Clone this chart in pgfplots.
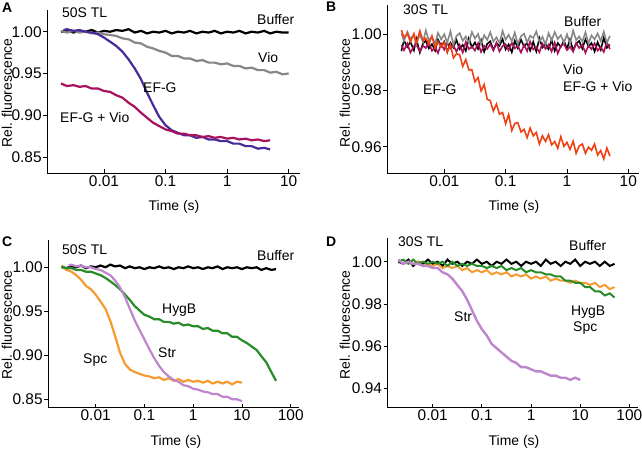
\documentclass[border=0pt]{standalone}
\usepackage{pgfplots}
\usepackage{pgfplotstable}
\pgfplotsset{compat=1.18}
\usepackage{fontspec}
\setmainfont{Liberation Sans}
\newcommand{\fs}{\fontsize{14}{16}\selectfont}
\newcommand{\ts}{\fontsize{15.5}{18}\selectfont}
\definecolor{efg}{RGB}{72,42,152}
\definecolor{crim}{RGB}{168,18,92}
\definecolor{vgray}{RGB}{135,135,135}
\definecolor{ored}{RGB}{240,65,20}
\definecolor{hyg}{RGB}{40,140,40}
\definecolor{spc}{RGB}{245,155,50}
\definecolor{str}{RGB}{190,135,205}
\pgfplotstableread{
t gray black crim ored
0.0020 1.0003 0.9940 0.9961 1.0015
0.0022 0.9976 0.9978 0.9943 0.9989
0.0025 1.0009 0.9955 0.9967 1.0002
0.0028 0.9984 0.9973 0.9935 0.9973
0.0032 0.9996 0.9943 0.9957 1.0002
0.0035 0.9966 0.9984 0.9964 0.9967
0.0040 0.9999 0.9935 0.9939 1.0012
0.0045 0.9972 0.9967 0.9959 0.9977
0.0050 1.0014 0.9977 0.9951 0.9986
0.0056 0.9979 0.9950 0.9971 0.9965
0.0063 0.9990 0.9965 0.9941 0.9994
0.0071 0.9967 0.9942 0.9955 0.9951
0.0079 1.0005 0.9981 0.9933 0.9974
0.0089 0.9982 0.9958 0.9966 0.9955
0.0100 1.0000 0.9974 0.9945 0.9971
0.0112 0.9970 0.9937 0.9969 0.9937
0.0126 1.0011 0.9970 0.9949 0.9963
0.0141 0.9962 0.9953 0.9960 0.9916
0.0158 0.9994 0.9980 0.9938 0.9931
0.0178 1.0004 0.9947 0.9963 0.9927
0.0200 0.9977 0.9962 0.9935 0.9886
0.0224 0.9992 0.9941 0.9973 0.9910
0.0251 0.9969 0.9985 0.9947 0.9874
0.0282 1.0008 0.9954 0.9956 0.9874
0.0316 0.9985 0.9971 0.9942 0.9831
0.0355 1.0001 0.9948 0.9968 0.9846
0.0398 0.9964 0.9979 0.9937 0.9799
0.0447 0.9997 0.9938 0.9959 0.9821
0.0501 0.9980 0.9966 0.9948 0.9769
0.0562 1.0007 0.9975 0.9965 0.9764
0.0631 0.9974 0.9944 0.9943 0.9727
0.0708 0.9989 0.9968 0.9970 0.9752
0.0794 0.9968 0.9959 0.9939 0.9716
0.0891 1.0012 0.9983 0.9958 0.9722
0.100 0.9981 0.9946 0.9965 0.9682
0.112 0.9998 0.9964 0.9943 0.9715
0.126 0.9975 0.9936 0.9970 0.9658
0.141 1.0006 0.9977 0.9950 0.9683
0.158 0.9965 0.9951 0.9959 0.9686
0.178 0.9993 0.9981 0.9935 0.9653
0.200 1.0002 0.9956 0.9962 0.9662
0.224 0.9971 0.9970 0.9940 0.9633
0.251 0.9995 0.9942 0.9974 0.9667
0.282 0.9986 0.9973 0.9946 0.9639
0.316 1.0010 0.9939 0.9955 0.9651
0.355 0.9973 0.9986 0.9936 0.9610
0.398 0.9991 0.9953 0.9967 0.9639
0.447 0.9963 0.9965 0.9948 0.9619
0.501 1.0004 0.9947 0.9963 0.9643
0.562 0.9978 0.9980 0.9939 0.9607
0.631 1.0008 0.9941 0.9971 0.9619
0.708 0.9983 0.9969 0.9932 0.9595
0.794 0.9997 0.9955 0.9958 0.9636
0.891 0.9969 0.9976 0.9966 0.9602
1.00 1.0000 0.9949 0.9944 0.9616
1.12 0.9966 0.9982 0.9956 0.9591
1.26 1.0013 0.9943 0.9938 0.9620
1.41 0.9980 0.9967 0.9969 0.9577
1.58 0.9992 0.9976 0.9951 0.9603
1.78 0.9974 0.9949 0.9963 0.9610
2.00 1.0007 0.9982 0.9934 0.9577
2.24 0.9968 0.9957 0.9960 0.9599
2.51 0.9996 0.9969 0.9947 0.9588
2.82 0.9982 0.9939 0.9968 0.9610
3.16 1.0003 0.9972 0.9942 0.9571
3.55 0.9976 0.9945 0.9954 0.9587
3.98 1.0009 0.9987 0.9937 0.9557
4.47 0.9970 0.9952 0.9972 0.9596
5.01 0.9994 0.9963 0.9947 0.9567
}\tabB
\begin{document}
\begin{tikzpicture}
\useasboundingbox (0bp,0bp) rectangle (642bp,450bp);
% ---------------- Panel A
\begin{axis}[scale only axis, xmode=log, anchor=south west,
  axis x line*=bottom, axis y line*=left, axis line style={-, line width=0.8bp},
  xtick align=inside, ytick align=outside, major tick length=4bp,
  xminorticks=false, yminorticks=false,
  tick style={line width=0.8bp, black}, tick label style={font=\ts},
  yticklabel style={inner sep=1.5pt}, xticklabel style={inner sep=2pt},
  at={(47.3bp,276.7bp)}, width=252.7bp, height=163.3bp,
  xmin=0.0012, xmax=15.26, ymin=0.8305, ymax=1.026,
  xtick={0.01,0.1,1,10}, xticklabels={\mbox{0.01},\mbox{0.1},\mbox{1},\mbox{10}},
  ytick={0.85,0.9,0.95,1}, yticklabels={\mbox{0.85},\mbox{0.90},\mbox{0.95},\mbox{1.00}}]
\addplot[black, line width=2.2bp, no markers] coordinates {(0.002,1.000)(0.0025,1.001)(0.0032,0.999)(0.004,1.001)(0.005,1.000)(0.0063,1.002)(0.008,0.999)(0.01,1.001)(0.0126,1.000)(0.0158,1.002)(0.02,1.001)(0.025,1.003)(0.0316,0.999)(0.04,1.001)(0.05,0.998)(0.063,1.000)(0.079,0.999)(0.1,1.001)(0.126,0.998)(0.158,1.000)(0.2,0.999)(0.25,1.001)(0.316,0.998)(0.4,1.000)(0.5,0.999)(0.63,1.001)(0.79,0.998)(1,1.000)(1.26,0.999)(1.58,1.001)(2,0.998)(2.5,1.000)(3.16,0.999)(4,1.001)(5,0.998)(6.3,1.000)(7.9,0.999)(10,0.999)};
\addplot[vgray, line width=2.2bp, no markers] coordinates {(0.002,1.001)(0.0025,0.999)(0.0032,1.001)(0.004,0.999)(0.005,1.000)(0.0063,0.998)(0.008,0.999)(0.01,0.997)(0.0126,0.996)(0.0158,0.995)(0.02,0.992)(0.025,0.991)(0.0316,0.987)(0.04,0.986)(0.05,0.982)(0.063,0.980)(0.079,0.977)(0.1,0.975)(0.126,0.971)(0.158,0.971)(0.2,0.968)(0.25,0.968)(0.316,0.965)(0.4,0.966)(0.5,0.963)(0.63,0.963)(0.79,0.961)(1,0.962)(1.26,0.959)(1.58,0.959)(2,0.956)(2.5,0.957)(3.16,0.954)(4,0.954)(5,0.951)(6.3,0.952)(7.9,0.949)(10,0.950)};
\addplot[efg, line width=2.2bp, no markers] coordinates {(0.0022,1.002)(0.0025,1.003)(0.0032,1.001)(0.004,1.002)(0.005,1.000)(0.0063,0.999)(0.008,0.997)(0.01,0.993)(0.0126,0.988)(0.0158,0.983)(0.02,0.976)(0.025,0.967)(0.0316,0.956)(0.04,0.943)(0.05,0.927)(0.063,0.912)(0.079,0.898)(0.1,0.888)(0.126,0.882)(0.158,0.879)(0.2,0.876)(0.25,0.876)(0.316,0.873)(0.4,0.874)(0.5,0.871)(0.63,0.871)(0.79,0.869)(1,0.869)(1.26,0.866)(1.58,0.866)(2,0.863)(2.5,0.863)(3.16,0.860)(4,0.861)(5,0.859)};
\addplot[crim, line width=2.2bp, no markers] coordinates {(0.002,0.938)(0.0025,0.935)(0.0032,0.936)(0.004,0.934)(0.005,0.935)(0.0063,0.932)(0.008,0.932)(0.01,0.929)(0.0126,0.928)(0.0158,0.924)(0.02,0.921)(0.025,0.915)(0.0316,0.910)(0.04,0.903)(0.05,0.897)(0.063,0.891)(0.079,0.887)(0.1,0.883)(0.126,0.881)(0.158,0.878)(0.2,0.878)(0.25,0.876)(0.316,0.876)(0.4,0.874)(0.5,0.875)(0.63,0.873)(0.79,0.874)(1,0.872)(1.26,0.873)(1.58,0.871)(2,0.872)(2.5,0.870)(3.16,0.871)(4,0.869)(5,0.870)};
\end{axis}
% ---------------- Panel B
\begin{axis}[scale only axis, xmode=log, anchor=south west,
  axis x line*=bottom, axis y line*=left, axis line style={-, line width=0.8bp},
  xtick align=inside, ytick align=outside, major tick length=4bp,
  xminorticks=false, yminorticks=false,
  tick style={line width=0.8bp, black}, tick label style={font=\ts},
  yticklabel style={inner sep=1.5pt}, xticklabel style={inner sep=2pt},
  at={(387.3bp,276.7bp)}, width=251.7bp, height=168.3bp,
  xmin=0.001178, xmax=14.93, ymin=0.9506, ymax=1.0104,
  xtick={0.01,0.1,1,10}, xticklabels={\mbox{0.01},\mbox{0.1},\mbox{1},\mbox{10}},
  ytick={0.96,0.98,1}, yticklabels={\mbox{0.96},\mbox{0.98},\mbox{1.00}}]
\addplot[black, line width=1.6bp, no markers] table[x=t, y=black] {\tabB};
\addplot[crim, line width=1.6bp, no markers] table[x=t, y=crim] {\tabB};
\addplot[vgray, line width=1.6bp, no markers] table[x=t, y=gray] {\tabB};
\addplot[ored, line width=1.6bp, no markers] table[x=t, y=ored] {\tabB};
\end{axis}
% ---------------- Panel C
\begin{axis}[scale only axis, xmode=log, anchor=south west,
  axis x line*=bottom, axis y line*=left, axis line style={-, line width=0.8bp},
  xtick align=inside, ytick align=outside, major tick length=4bp,
  xminorticks=false, yminorticks=false,
  tick style={line width=0.8bp, black}, tick label style={font=\ts},
  yticklabel style={inner sep=1.5pt}, xticklabel style={inner sep=2pt},
  at={(48.3bp,42.3bp)}, width=251bp, height=167.7bp,
  xmin=0.001067, xmax=150, ymin=0.8405, ymax=1.031,
  xtick={0.01,0.1,1,10,100}, xticklabels={\mbox{0.01},\mbox{0.1},\mbox{1},\mbox{10},\mbox{100}},
  ytick={0.85,0.9,0.95,1}, yticklabels={\mbox{0.85},\mbox{0.90},\mbox{0.95},\mbox{1.00}}]
\addplot[black, line width=2.2bp, no markers] coordinates {(0.002,1.000)(0.0025,0.999)(0.0032,1.001)(0.004,1.000)(0.005,1.002)(0.0063,0.999)(0.008,1.001)(0.01,1.000)(0.0126,1.002)(0.0158,1.000)(0.02,1.003)(0.025,1.001)(0.0316,1.002)(0.04,0.999)(0.05,1.001)(0.063,0.999)(0.079,1.000)(0.1,0.998)(0.126,1.000)(0.158,0.999)(0.2,1.001)(0.25,0.999)(0.316,1.000)(0.4,0.998)(0.5,1.000)(0.63,0.999)(0.79,1.001)(1,0.999)(1.26,1.000)(1.58,0.998)(2,1.000)(2.5,0.999)(3.16,1.001)(4,0.998)(5,1.000)(6.3,0.999)(7.9,1.000)(10,0.998)(12.6,1.000)(15.8,0.999)(20,1.000)(25,0.997)(31.6,0.999)(40,0.997)(50,0.998)};
\addplot[spc, line width=2.2bp, no markers] coordinates {(0.002,1.002)(0.0025,0.997)(0.0032,0.995)(0.004,0.991)(0.005,0.986)(0.0063,0.979)(0.008,0.975)(0.01,0.969)(0.0126,0.961)(0.0158,0.953)(0.02,0.939)(0.025,0.922)(0.0316,0.903)(0.04,0.890)(0.05,0.884)(0.063,0.881)(0.079,0.879)(0.1,0.877)(0.126,0.876)(0.158,0.874)(0.2,0.875)(0.25,0.872)(0.316,0.874)(0.4,0.871)(0.5,0.873)(0.63,0.870)(0.79,0.872)(1,0.870)(1.26,0.871)(1.58,0.869)(2,0.871)(2.5,0.868)(3.16,0.870)(4,0.868)(5,0.870)(6.3,0.867)(7.9,0.870)(10,0.869)};
\addplot[hyg, line width=2.2bp, no markers] coordinates {(0.002,1.001)(0.0025,0.999)(0.0032,0.999)(0.004,0.997)(0.005,0.997)(0.0063,0.995)(0.008,0.995)(0.01,0.993)(0.0126,0.991)(0.0158,0.988)(0.02,0.984)(0.025,0.980)(0.0316,0.975)(0.04,0.969)(0.05,0.963)(0.063,0.956)(0.079,0.951)(0.1,0.946)(0.126,0.944)(0.158,0.941)(0.2,0.941)(0.25,0.938)(0.316,0.938)(0.4,0.936)(0.5,0.937)(0.63,0.934)(0.79,0.935)(1,0.933)(1.26,0.933)(1.58,0.930)(2,0.931)(2.5,0.928)(3.16,0.928)(4,0.925)(5,0.925)(6.3,0.921)(7.9,0.921)(10,0.917)(12.6,0.914)(15.8,0.910)(20,0.906)(25,0.899)(31.6,0.892)(40,0.881)(50,0.871)};
\addplot[str, line width=2.2bp, no markers] coordinates {(0.0028,1.002)(0.0032,1.003)(0.004,1.001)(0.005,1.002)(0.0063,1.000)(0.008,1.000)(0.01,0.998)(0.0126,0.997)(0.0158,0.994)(0.02,0.991)(0.025,0.985)(0.0316,0.977)(0.04,0.966)(0.05,0.953)(0.063,0.940)(0.079,0.929)(0.1,0.918)(0.126,0.907)(0.158,0.897)(0.2,0.888)(0.25,0.881)(0.316,0.876)(0.4,0.872)(0.5,0.870)(0.63,0.866)(0.79,0.865)(1,0.862)(1.26,0.861)(1.58,0.859)(2,0.858)(2.5,0.856)(3.16,0.856)(4,0.853)(5,0.853)(6.3,0.850)(7.9,0.850)(10,0.848)};
\end{axis}
% ---------------- Panel D
\begin{axis}[scale only axis, xmode=log, anchor=south west,
  axis x line*=bottom, axis y line*=left, axis line style={-, line width=0.8bp},
  xtick align=inside, ytick align=outside, major tick length=4bp,
  xminorticks=false, yminorticks=false,
  tick style={line width=0.8bp, black}, tick label style={font=\ts},
  yticklabel style={inner sep=1.5pt}, xticklabel style={inner sep=2pt},
  at={(387.7bp,42.3bp)}, width=250.6bp, height=169.4bp,
  xmin=0.001213, xmax=152, ymin=0.9308, ymax=1.0111,
  xtick={0.01,0.1,1,10,100}, xticklabels={\mbox{0.01},\mbox{0.1},\mbox{1},\mbox{10},\mbox{100}},
  ytick={0.94,0.96,0.98,1}, yticklabels={\mbox{0.94},\mbox{0.96},\mbox{0.98},\mbox{1.00}}]
\addplot[black, line width=2bp, no markers] coordinates {(0.002,1.000)(0.0025,0.999)(0.0032,1.001)(0.004,0.998)(0.005,1.000)(0.0063,0.999)(0.008,1.001)(0.01,0.999)(0.0126,1.000)(0.0158,0.998)(0.02,1.001)(0.025,0.999)(0.0316,1.000)(0.04,0.998)(0.05,1.000)(0.063,0.999)(0.079,1.001)(0.1,0.999)(0.126,1.000)(0.158,0.998)(0.2,1.000)(0.25,0.999)(0.316,1.001)(0.4,0.999)(0.5,1.000)(0.63,0.998)(0.79,1.000)(1,0.999)(1.26,1.000)(1.58,0.998)(2,1.001)(2.5,0.999)(3.16,1.000)(4,0.998)(5,1.000)(6.3,0.999)(7.9,1.001)(10,0.998)(12.6,1.000)(15.8,0.999)(20,1.000)(25,0.998)(31.6,1.000)(40,0.998)(50,0.999)};
\addplot[spc, line width=2bp, no markers] coordinates {(0.002,1.001)(0.0025,0.999)(0.0032,1.000)(0.004,0.999)(0.005,1.000)(0.0063,0.998)(0.008,0.999)(0.01,0.998)(0.0126,0.999)(0.0158,0.997)(0.02,0.998)(0.025,0.997)(0.0316,0.998)(0.04,0.996)(0.05,0.997)(0.063,0.995)(0.079,0.996)(0.1,0.995)(0.126,0.996)(0.158,0.994)(0.2,0.995)(0.25,0.994)(0.316,0.995)(0.4,0.993)(0.5,0.994)(0.63,0.993)(0.79,0.994)(1,0.992)(1.26,0.993)(1.58,0.992)(2,0.993)(2.5,0.991)(3.16,0.992)(4,0.991)(5,0.991)(6.3,0.990)(7.9,0.991)(10,0.990)(12.6,0.990)(15.8,0.989)(20,0.990)(25,0.988)(31.6,0.989)(40,0.987)(50,0.988)};
\addplot[hyg, line width=2bp, no markers] coordinates {(0.002,1.000)(0.0025,1.001)(0.0032,0.999)(0.004,1.001)(0.005,0.999)(0.0063,1.000)(0.008,0.999)(0.01,1.000)(0.0126,0.999)(0.0158,1.000)(0.02,0.998)(0.025,1.000)(0.0316,0.998)(0.04,0.999)(0.05,0.998)(0.063,0.999)(0.079,0.998)(0.1,0.998)(0.126,0.997)(0.158,0.998)(0.2,0.997)(0.25,0.998)(0.316,0.996)(0.4,0.997)(0.5,0.996)(0.63,0.997)(0.79,0.995)(1,0.996)(1.26,0.995)(1.58,0.995)(2,0.994)(2.5,0.994)(3.16,0.993)(4,0.993)(5,0.991)(6.3,0.991)(7.9,0.990)(10,0.990)(12.6,0.988)(15.8,0.988)(20,0.986)(25,0.986)(31.6,0.984)(40,0.985)(50,0.983)};
\addplot[str, line width=2.4bp, no markers] coordinates {(0.002,1.001)(0.0025,0.999)(0.0032,1.000)(0.004,0.999)(0.005,0.999)(0.0063,0.998)(0.008,0.998)(0.01,0.997)(0.0126,0.997)(0.0158,0.995)(0.02,0.994)(0.025,0.992)(0.0316,0.989)(0.04,0.986)(0.05,0.982)(0.063,0.977)(0.079,0.972)(0.1,0.968)(0.126,0.965)(0.158,0.961)(0.2,0.959)(0.25,0.957)(0.316,0.955)(0.4,0.953)(0.5,0.952)(0.63,0.950)(0.79,0.950)(1,0.949)(1.26,0.948)(1.58,0.948)(2,0.947)(2.5,0.946)(3.16,0.946)(4,0.945)(5,0.945)(6.3,0.944)(7.9,0.945)(10,0.944)};
\end{axis}
% ---------------- Text
\begin{scope}[x=1bp, y=1bp, every node/.style={font=\fs, inner sep=0pt}]
\node[anchor=west, font=\fs\bfseries] at (2,442) {A};
\node[anchor=west] at (62,437) {50S TL};
\node[anchor=west] at (257,430) {Buffer};
\node[anchor=west] at (258,392) {Vio};
\node[anchor=west] at (143,362) {EF-G};
\node[anchor=west] at (60,332) {EF-G + Vio};
\node[rotate=90] at (7,357) {Rel. fluorescence};
\node at (174,243) {Time (s)};
\node[anchor=west, font=\fs\bfseries] at (326,443) {B};
\node[anchor=west] at (403,440) {30S TL};
\node[anchor=west] at (564,428) {Buffer};
\node[anchor=west] at (563,380) {Vio};
\node[anchor=west] at (563,363) {EF-G + Vio};
\node[anchor=west] at (423,360) {EF-G};
\node[rotate=90] at (345,357) {Rel. fluorescence};
\node at (514,243) {Time (s)};
\node[anchor=west, font=\fs\bfseries] at (2,208) {C};
\node[anchor=west] at (62,200) {50S TL};
\node[anchor=west] at (257,194) {Buffer};
\node[anchor=west] at (162,140) {HygB};
\node[anchor=west] at (158,97) {Str};
\node[anchor=west] at (83,90) {Spc};
\node[rotate=90] at (7,125) {Rel. fluorescence};
\node at (176,8) {Time (s)};
\node[anchor=west, font=\fs\bfseries] at (326,208) {D};
\node[anchor=west] at (398,208) {30S TL};
\node[anchor=west] at (569,204) {Buffer};
\node[anchor=west] at (571,138) {HygB};
\node[anchor=west] at (573,122) {Spc};
\node[anchor=west] at (454,133) {Str};
\node[rotate=90] at (345,125) {Rel. fluorescence};
\node at (514,8) {Time (s)};
\end{scope}
\end{tikzpicture}
\end{document}
